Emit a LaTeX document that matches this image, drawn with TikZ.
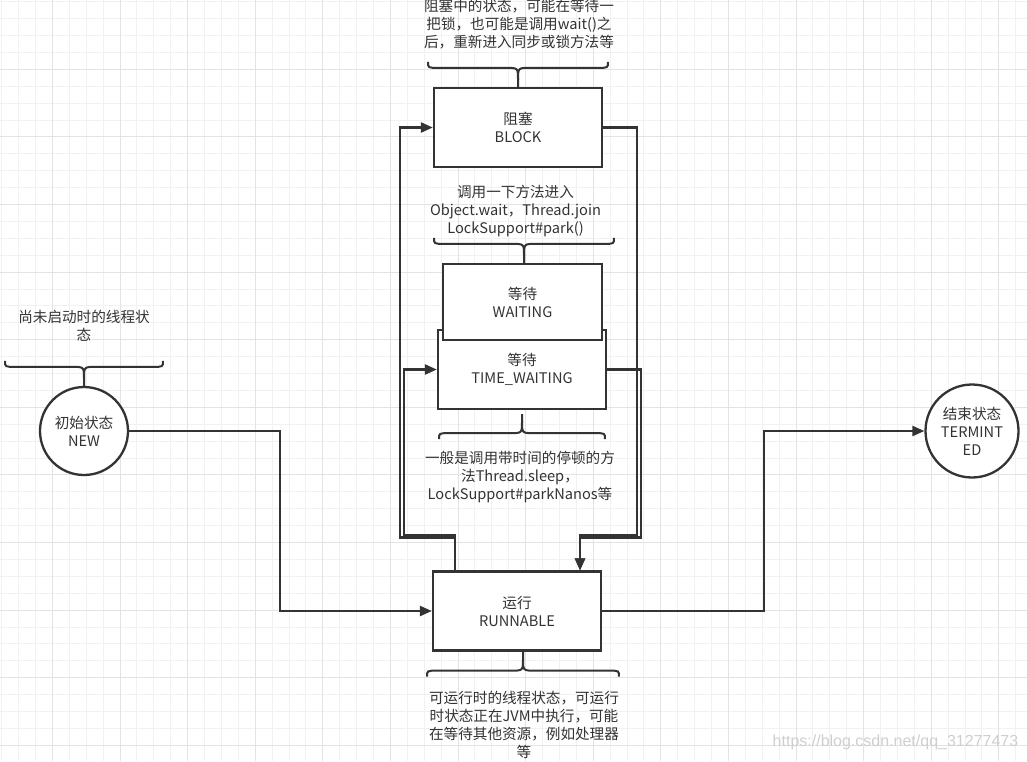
\documentclass[tikz,border=0pt]{standalone}
\usepackage{fontspec}
\usepackage{tikz}
\usetikzlibrary{arrows.meta,positioning,calc}
\newfontfamily\cjk{Noto Sans CJK SC}
\newfontfamily\wmfont{Liberation Sans}
\definecolor{ink}{HTML}{333333}
\definecolor{gridminor}{HTML}{F1F1F1}
\definecolor{gridmajor}{HTML}{E3E3E3}
\definecolor{wmark}{HTML}{CFCFCF}

\tikzset{
  pics/curly/.style={code={
    \draw[ink,line width=2pt] (-#1,-25) .. controls (-#1,-19) .. (-#1+10,-19) -- (-12,-19) .. controls (0,-19) .. (0,-7) -- (0,0);
    \draw[ink,line width=2pt] (#1,-25) .. controls (#1,-19) .. (#1-10,-19) -- (12,-19) .. controls (0,-19) .. (0,-7);
  }}
}

\begin{document}
\begin{tikzpicture}[x=1pt,y=-1pt,font=\cjk\fontsize{14.6}{18}\selectfont,text=ink,
  state/.style={draw=ink,line width=2.3pt,fill=white,minimum width=168pt,minimum height=79pt,align=center,inner sep=2pt},
  endpt/.style={draw=ink,line width=2.3pt,fill=white,circle,align=center,inner sep=0pt},
  note/.style={align=center,inner sep=0pt},
  arr/.style={-{Triangle[length=12pt,width=10pt]},draw=ink,line width=2.3pt}]
\useasboundingbox (0,0) rectangle (1027,761);
\fill[white] (0,0) rectangle (1027,761);
% grid
\foreach \k in {0,...,60}
  \draw[gridminor,line width=1pt] (1.7+16.9*\k,0) -- (1.7+16.9*\k,761);
\foreach \k in {0,...,44}
  \draw[gridminor,line width=1pt] (0,1.7+16.9*\k) -- (1027,1.7+16.9*\k);
\foreach \k in {3,7,...,59}
  \draw[gridmajor,line width=1pt] (1.7+16.9*\k,0) -- (1.7+16.9*\k,761);
\foreach \k in {4,8,...,44}
  \draw[gridmajor,line width=1pt] (0,1.7+16.9*\k) -- (1027,1.7+16.9*\k);

% states
\node[endpt,minimum size=88pt] (new) at (84,431) {初始状态\\NEW};
\node[state] (block) at (518,127.5) {阻塞\\BLOCK};
\node[state] (timewait) at (522,369.5) {等待\\TIME\_WAITING};
\node[state,minimum width=159pt,minimum height=76pt] (waiting) at (522.5,302) {等待\\WAITING};
\node[state] (runnable) at (517,611) {运行\\RUNNABLE};
\node[endpt,minimum size=93pt] (term) at (972,431) {结束状态\\TERMINT\\ED};

% notes
\node[note,above=38pt of block,xshift=1pt] (blocknote) {阻塞中的状态，可能在等待一\\把锁，也可能是调用wait()之\\后，重新进入同步或锁方法等};
\node[note,above=26pt of waiting,xshift=-7pt] (waitnote) {调用一下方法进入\\Object.wait，Thread.join\\LockSupport\#park()};
\node[note,below=41pt of timewait,xshift=-2pt] (timenote) {一般是调用带时间的停顿的方\\法Thread.sleep，\\LockSupport\#parkNanos等};
\node[note,below=39pt of runnable,xshift=7pt] (runnote) {可运行时的线程状态，可运行\\时状态正在JVM中执行，可能\\在等待其他资源，例如处理器\\等};
\node[note,above=44pt of new] (newnote) {尚未启动时的线程状\\态};

% braces
\pic at (block.north) {curly=90};
\pic at ([xshift=1.5pt]waiting.north) {curly=90};
\pic[yscale=-1] at ([yshift=-4pt]timewait.south) {curly=83};
\pic[yscale=-1] at ([xshift=6pt]runnable.south) {curly=96};
\pic at (new.north) {curly=79};

% transitions
\draw[arr] (new.east) -| ([xshift=-152pt]runnable.west) -- (runnable.west);
\draw[arr] (runnable.east) -- ++(162,0) |- (term.west);
\draw[arr] ([xshift=-62pt]runnable.north) -- ++(0,-33) -| ([xshift=-33pt]block.west) -- (block.west);
\draw[arr] ([xshift=-62pt]runnable.north) -- ++(0,-35) -| ([xshift=-33pt]timewait.west) -- (timewait.west);
\draw[arr] (block.east) -- ++(34,0) |- ([xshift=63pt,yshift=35pt]runnable.north) -- ([xshift=63pt]runnable.north);
\draw[arr] (timewait.east) -- ++(34,0) |- ([xshift=63pt,yshift=33pt]runnable.north) -- ([xshift=63pt]runnable.north);

\node[text=wmark,font=\wmfont\fontsize{16}{18}\selectfont,inner sep=0pt] (mark) at (895.5,742) {https://blog.csdn.net/qq\_31277473};
\end{tikzpicture}
\end{document}
